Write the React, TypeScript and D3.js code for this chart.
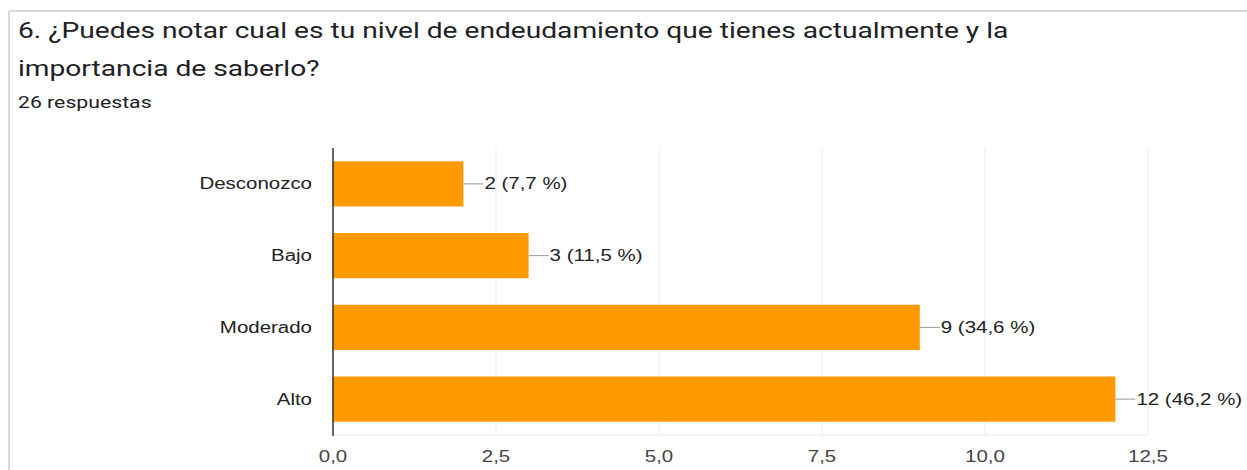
import React from "react";
import * as d3 from "d3";

const categories = ["Desconozco", "Bajo", "Moderado", "Alto"];
const values = [2, 3, 9, 12];
const valueLabels = ["2 (7,7 %)", "3 (11,5 %)", "9 (34,6 %)", "12 (46,2 %)"];
const ticks = [0, 2.5, 5, 7.5, 10, 12.5];
const titleLines = [
  "6. ¿Puedes notar cual es tu nivel de endeudamiento que tienes actualmente y la",
  "importancia de saberlo?",
];
const subtitle = "26 respuestas";

const W = 1247;
const H = 470;
const plotLeft = 333;
const plotRight = 1148;
const plotTop = 148;
const plotBottom = 435;
const SX = 1.28;

function SText(props: {
  x: number;
  y: number;
  children: React.ReactNode;
  anchor?: "start" | "middle" | "end";
  size: number;
  family: string;
  fill: string;
  dy?: string;
}) {
  return (
    <text
      transform={`translate(${props.x},${props.y}) scale(${SX},1)`}
      textAnchor={props.anchor || "start"}
      fontFamily={props.family}
      fontSize={props.size}
      fill={props.fill}
      dy={props.dy}
    >
      {props.children}
    </text>
  );
}

export default function App() {
  const x = d3.scaleLinear().domain([0, 12.5]).range([plotLeft, plotRight]);
  const y = d3
    .scaleBand<string>()
    .domain(categories)
    .range([plotTop, plotBottom])
    .paddingInner(0.37)
    .paddingOuter(0.185);
  const fmt = (v: number) => v.toFixed(1).replace(".", ",");
  const chartFont = "'Liberation Sans', Arial, sans-serif";
  const titleFont = "Roboto, 'Liberation Sans', sans-serif";
  return (
    <svg
      width={W}
      height={H}
      style={{ position: "fixed", left: 0, top: 0, background: "#fff" }}
    >
      <rect x={0} y={0} width={W} height={H} fill="#fff" />
      <line x1={9} y1={11} x2={W} y2={11} stroke="#dadada" strokeWidth={2} />
      <line x1={9} y1={11} x2={9} y2={H} stroke="#dadada" strokeWidth={2} />
      {titleLines.map((t, i) => (
        <SText key={i} x={18} y={38 + i * 38} family={titleFont} size={22} fill="#202124">
          {t}
        </SText>
      ))}
      <SText x={18} y={108} family={titleFont} size={16.6} fill="#202124">
        {subtitle}
      </SText>
      {ticks.map((t) => (
        <line
          key={t}
          x1={x(t)}
          x2={x(t)}
          y1={plotTop}
          y2={plotBottom}
          stroke="#ebebeb"
          strokeWidth={1}
        />
      ))}
      <line x1={plotLeft} x2={plotRight} y1={plotBottom} y2={plotBottom} stroke="#ebebeb" />
      {categories.map((c, i) => {
        const yy = y(c)!;
        const bh = y.bandwidth();
        const xe = x(values[i]);
        return (
          <g key={c}>
            <rect x={x(0)} y={yy} width={xe - x(0)} height={bh} fill="#ff9900" />
            <line
              x1={xe}
              x2={xe + 20}
              y1={yy + bh / 2}
              y2={yy + bh / 2}
              stroke="#999"
              strokeWidth={1}
            />
            <SText x={xe + 21} y={yy + bh / 2} dy="0.35em" family={chartFont} size={16} fill="#222">
              {valueLabels[i]}
            </SText>
            <SText x={312} y={yy + bh / 2} dy="0.35em" anchor="end" family={chartFont} size={16} fill="#222">
              {c}
            </SText>
          </g>
        );
      })}
      <line x1={x(0)} x2={x(0)} y1={plotTop} y2={plotBottom + 1} stroke="#333" strokeWidth={1.5} />
      {ticks.map((t) => (
        <SText key={t} x={x(t)} y={462} anchor="middle" family={chartFont} size={16} fill="#444">
          {fmt(t)}
        </SText>
      ))}
    </svg>
  );
}
